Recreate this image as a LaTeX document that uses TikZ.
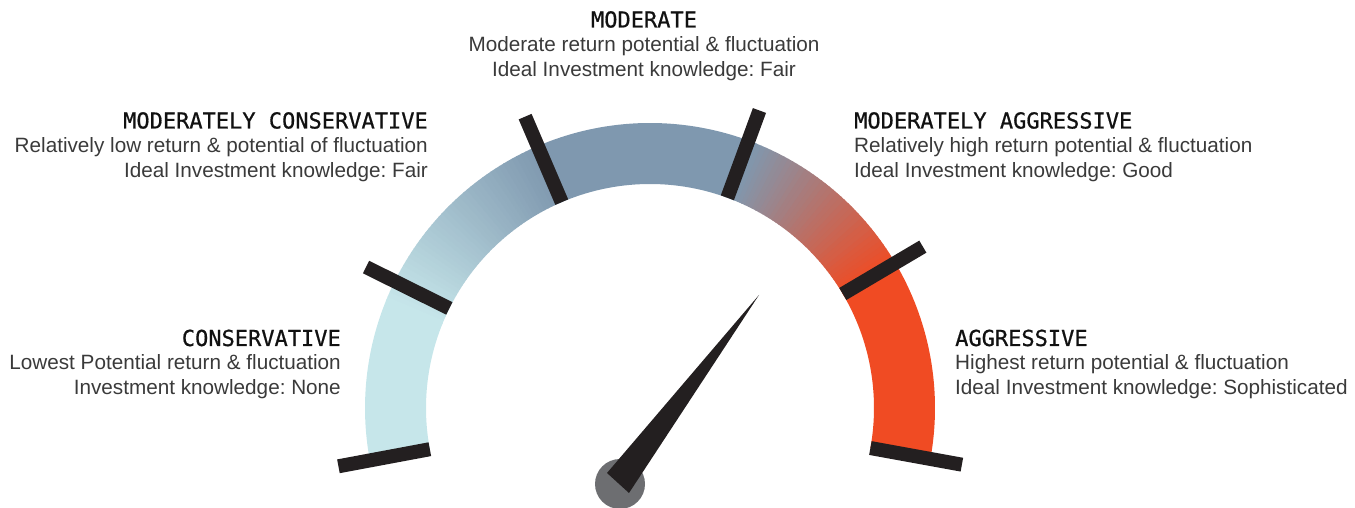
\documentclass[tikz,border=0pt]{standalone}
\usepackage{fontspec}
\setmainfont{Liberation Sans}
\newfontfamily\headfont[FakeBold=0.7]{DejaVu Sans Mono}
\definecolor{gaugelight}{HTML}{C6E6EA}
\definecolor{gaugesteel}{HTML}{7F98AF}
\definecolor{gaugeorange}{HTML}{F04B23}
\definecolor{tickcol}{HTML}{231F20}
\definecolor{pivotcol}{HTML}{6D6E71}
\definecolor{bodytext}{HTML}{3A3A3A}
\definecolor{headtext}{HTML}{111111}
\newcommand{\ringseg}[3]{%
  \fill[#3] (#1:285pt) arc[start angle=#1, end angle=#2, radius=285pt]
    -- (#2:224pt) arc[start angle=#2, end angle=#1, radius=224pt] -- cycle;}
\tikzset{
  headlbl/.style={inner sep=0pt, text=headtext, font=\headfont\fontsize{22}{26}\selectfont},
  bodylbl/.style={inner sep=0pt, text=bodytext, font=\frenchspacing\fontsize{20.7}{24}\selectfont},
  tickbar/.style={draw=tickcol, line width=14pt, line cap=butt},
}
\begin{document}
\begin{tikzpicture}[x=1pt,y=1pt]
\useasboundingbox (0,0) rectangle (1355,508);
% gauge ring
\begin{scope}[shift={(650,100)}]
  \ringseg{190.6}{157.5}{gaugelight}
  \foreach \i in {0,...,44} {
    \pgfmathsetmacro\aa{158-\i}
    \pgfmathsetmacro\bb{158-\i-1.15}
    \pgfmathtruncatemacro\pp{round(\i*100/44)}
    \ringseg{\aa}{\bb}{gaugesteel!\pp!gaugelight}
  }
  \ringseg{114}{68}{gaugesteel}
  \foreach \i in {0,...,38} {
    \pgfmathsetmacro\aa{69-\i}
    \pgfmathsetmacro\bb{69-\i-1.15}
    \pgfmathtruncatemacro\pp{round(\i*100/38)}
    \ringseg{\aa}{\bb}{gaugeorange!\pp!gaugesteel}
  }
  \ringseg{31}{-10.3}{gaugeorange}
  % ticks
  \foreach \t [count=\k] in {190.6,153.6,113.2,69.8,30.6,-10.3} {
    \coordinate (tin\k) at (\t:224pt);
    \coordinate (tout\k) at (\t:317pt);
    \draw[tickbar] (tin\k) -- (tout\k);
  }
\end{scope}
% pivot and needle
\node[circle, fill=pivotcol, minimum size=50pt, inner sep=0pt] (pivot) at (620,24) {};
\coordinate (nbaseA) at (607,35);
\coordinate (nbaseB) at (629,15);
\coordinate (ntip) at (759,213);
\fill[tickcol] (nbaseA) -- (ntip) -- (nbaseB) -- cycle;
% labels
\node[headlbl, anchor=base] (modh) at (644,480.5) {MODERATE};
\node[bodylbl, anchor=base] (mod1) at (644,456) {Moderate return potential \& fluctuation};
\node[bodylbl, anchor=base] (mod2) at (644,431) {Ideal Investment knowledge: Fair};
\node[headlbl, anchor=base east] (mch) at (428,379.5) {MODERATELY CONSERVATIVE};
\node[bodylbl, anchor=base east] (mc1) at (428,355) {Relatively low return \& potential of fluctuation};
\node[bodylbl, anchor=base east] (mc2) at (428,330) {Ideal Investment knowledge: Fair};
\node[headlbl, anchor=base west] (mah) at (854,379.5) {MODERATELY AGGRESSIVE};
\node[bodylbl, anchor=base west] (ma1) at (854,355) {Relatively high return potential \& fluctuation};
\node[bodylbl, anchor=base west] (ma2) at (854,330) {Ideal Investment knowledge: Good};
\node[headlbl, anchor=base east] (ch) at (341,162) {CONSERVATIVE};
\node[bodylbl, anchor=base east] (c1) at (341,138) {Lowest Potential return \& fluctuation};
\node[bodylbl, anchor=base east] (c2) at (341,113) {Investment knowledge: None};
\node[headlbl, anchor=base west] (ah) at (955,162) {AGGRESSIVE};
\node[bodylbl, anchor=base west] (a1) at (955,138) {Highest return potential \& fluctuation};
\node[bodylbl, anchor=base west] (a2) at (955,113) {Ideal Investment knowledge: Sophisticated};
\end{tikzpicture}
\end{document}
